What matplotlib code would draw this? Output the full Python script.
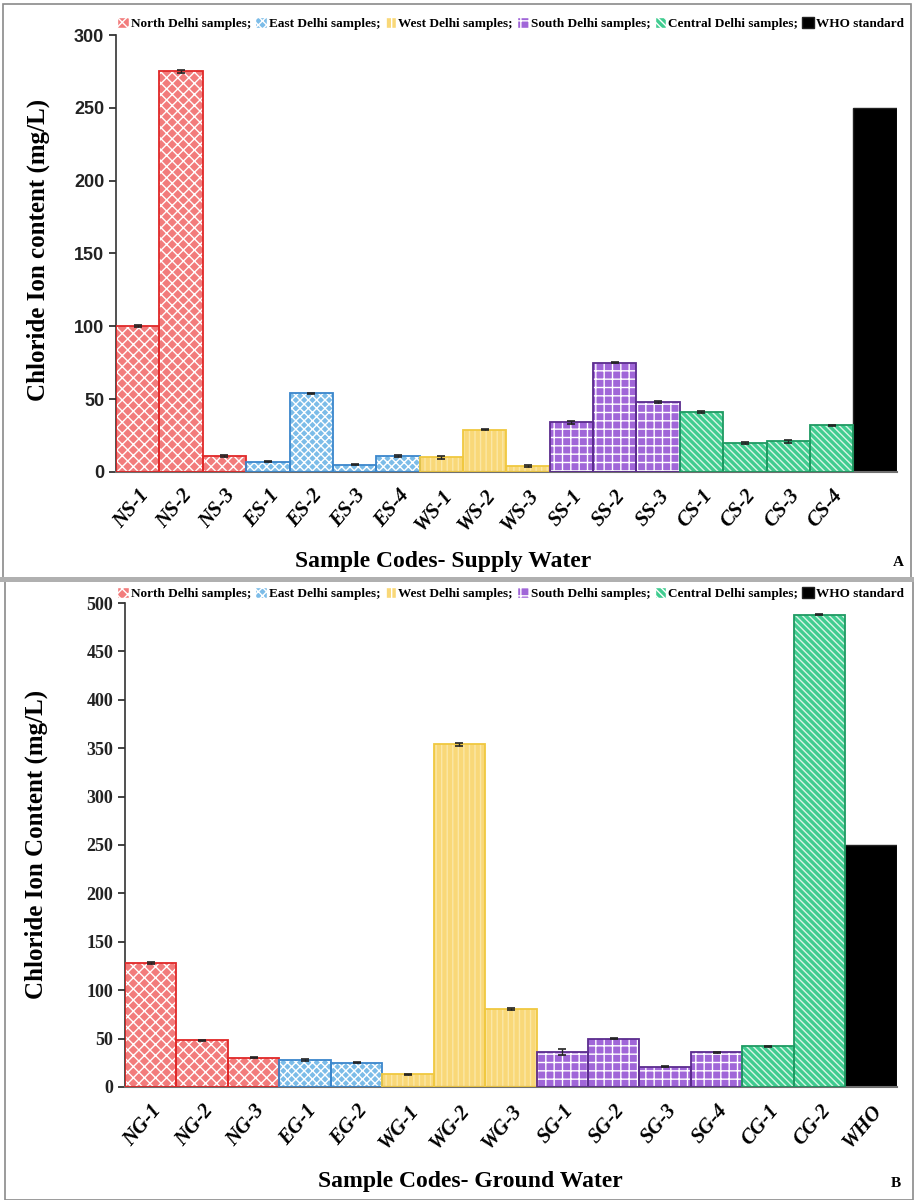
import numpy as np
import matplotlib
matplotlib.use("Agg")
import matplotlib.pyplot as plt
from matplotlib.patches import Patch, Rectangle

# ---------------- data ----------------
supply_labels = ["NS-1", "NS-2", "NS-3", "ES-1", "ES-2", "ES-3", "ES-4",
                 "WS-1", "WS-2", "WS-3", "SS-1", "SS-2", "SS-3",
                 "CS-1", "CS-2", "CS-3", "CS-4", ""]
supply_values = [100, 275, 11, 7, 54, 5, 11, 10, 29, 4, 34, 75, 48, 41, 20, 21, 32, 250]
supply_errors = [0.8, 1.2, 0.5, 0.5, 0.5, 0.5, 0.5, 0.8, 0.5, 0.5, 0.8, 0.5, 0.5, 0.8, 0.5, 0.8, 0.5, 0]
supply_groups = [0, 0, 0, 1, 1, 1, 1, 2, 2, 2, 3, 3, 3, 4, 4, 4, 4, 5]

ground_labels = ["NG-1", "NG-2", "NG-3", "EG-1", "EG-2", "WG-1", "WG-2", "WG-3",
                 "SG-1", "SG-2", "SG-3", "SG-4", "CG-1", "CG-2", "WHO"]
ground_values = [128, 48, 30, 28, 25, 13, 354, 81, 36, 50, 21, 36, 42, 488, 250]
ground_errors = [0.8, 0.5, 0.5, 1.0, 0.5, 0.8, 1.5, 1.0, 3.0, 0.5, 0.5, 0.5, 0.5, 0.5, 0]
ground_groups = [0, 0, 0, 1, 1, 2, 2, 2, 3, 3, 3, 3, 4, 4, 5]

legend_names = ["North Delhi samples;", "East Delhi samples;", "West Delhi samples;",
                "South Delhi samples;", "Central Delhi samples;", "WHO standard"]

# ---------------- styles ----------------
face = ["#f27c7c", "#7cbce8", "#f9d878", "#a066d8", "#40cc90", "#000000"]
edge = ["#e02828", "#3a86cc", "#f0c840", "#5b2c8e", "#1f9a62", "#222222"]
hatch_col = ["white", "white", "#fbe7a6", "white", "#d8f5e6", None]
hatches = ["xxx", "xxxx", "|||", "++", "\\\\\\\\\\", None]

plt.rcParams["hatch.linewidth"] = 1.0
SERIF = ["Liberation Serif", "DejaVu Serif"]

fig = plt.figure(figsize=(9.14, 12.0), dpi=100)

# panel frames
fig.patches.append(Rectangle((0.003, 0.518), 0.994, 0.479, transform=fig.transFigure,
                             fill=False, edgecolor="#8a8a8a", linewidth=1.2))
fig.patches.append(Rectangle((0.005, 0.0), 0.994, 0.516, transform=fig.transFigure,
                             fill=False, edgecolor="#8a8a8a", linewidth=1.2))
fig.patches.append(Rectangle((0.0, 0.515), 1.0, 0.004, transform=fig.transFigure,
                             facecolor="#b0b0b0", edgecolor="none"))


def draw_panel(ax, labels, values, errors, groups, ymax, ystep, ylabel, xlabel,
               tickfont, ylab_xy, xlab_xy):
    x = np.arange(len(values))
    for i in range(len(values)):
        g = groups[i]
        if hatches[g] is None:
            ax.bar(x[i], values[i], width=1.0, color=face[g], edgecolor=edge[g],
                   linewidth=1.0, zorder=2)
        else:
            ax.bar(x[i], values[i], width=1.0, color=face[g], edgecolor=hatch_col[g],
                   hatch=hatches[g], linewidth=0, zorder=2)
            ax.bar(x[i], values[i], width=1.0, fill=False, edgecolor=edge[g],
                   linewidth=1.3, zorder=3)
    err_x = [xi for xi, e in zip(x, errors) if e > 0]
    err_v = [v for v, e in zip(values, errors) if e > 0]
    err_e = [e for e in errors if e > 0]
    ax.errorbar(err_x, err_v, yerr=err_e, fmt="none", ecolor="#222222",
                elinewidth=1.0, capsize=3, capthick=1.2, zorder=4)
    ax.set_xlim(-0.5, len(values) - 0.5)
    ax.set_ylim(0, ymax)
    ax.set_yticks(np.arange(0, ymax + 1, ystep))
    ax.set_xticks(x)
    ax.set_xticklabels(labels, rotation=50, ha="right", rotation_mode="anchor",
                       fontsize=15, fontweight="bold", fontstyle="italic",
                       family=SERIF)
    for lab in ax.get_yticklabels():
        lab.set_fontfamily(tickfont)
        lab.set_fontweight("bold")
        lab.set_fontsize(13)
    ax.tick_params(axis="x", length=0, pad=10)
    ax.tick_params(axis="y", direction="out", length=5, width=1.2, colors="#222222")
    for s in ["top", "right"]:
        ax.spines[s].set_visible(False)
    ax.spines["left"].set_linewidth(1.2)
    ax.spines["left"].set_color("#333333")
    ax.spines["bottom"].set_linewidth(1.5)
    ax.spines["bottom"].set_color("#707070")
    ax.set_ylabel(ylabel, fontsize=18, fontweight="bold", family=SERIF)
    ax.set_xlabel(xlabel, fontsize=17, fontweight="bold", family=SERIF)
    ax.yaxis.set_label_coords(*ylab_xy, transform=fig.transFigure)
    ax.xaxis.set_label_coords(*xlab_xy, transform=fig.transFigure)


ax1 = fig.add_axes([0.127, 0.6067, 0.854, 0.3641])
draw_panel(ax1, supply_labels, supply_values, supply_errors, supply_groups, 300, 50,
           "Chloride Ion content (mg/L)", "Sample Codes- Supply Water",
           ["Liberation Sans", "DejaVu Sans"], (0.055, 0.792), (0.485, 0.541))

ax2 = fig.add_axes([0.1368, 0.0942, 0.8442, 0.4033])
draw_panel(ax2, ground_labels, ground_values, ground_errors, ground_groups, 500, 50,
           "Chloride Ion Content (mg/L)", "Sample Codes- Ground Water", SERIF,
           (0.052, 0.296), (0.515, 0.024))

fig.text(0.983, 0.531, "A", fontsize=11, fontweight="bold", family=SERIF,
         ha="center", va="center")
fig.text(0.980, 0.014, "B", fontsize=11, fontweight="bold", family=SERIF,
         ha="center", va="center")

# legends
handles = []
for g in range(6):
    if hatches[g] is None:
        handles.append(Patch(facecolor=face[g], edgecolor=edge[g]))
    else:
        handles.append(Patch(facecolor=face[g], edgecolor="white", hatch=hatches[g]))

for ypos in (0.986, 0.511):
    fig.legend(handles, legend_names, loc="upper left",
               bbox_to_anchor=(0.128, ypos), bbox_transform=fig.transFigure,
               ncol=6, frameon=False, handlelength=0.9, handleheight=0.9,
               handletextpad=0.15, columnspacing=0.3, borderaxespad=0,
               borderpad=0,
               prop={"family": SERIF, "weight": "bold", "size": 9.5})

fig.savefig("out.png", dpi=100)
